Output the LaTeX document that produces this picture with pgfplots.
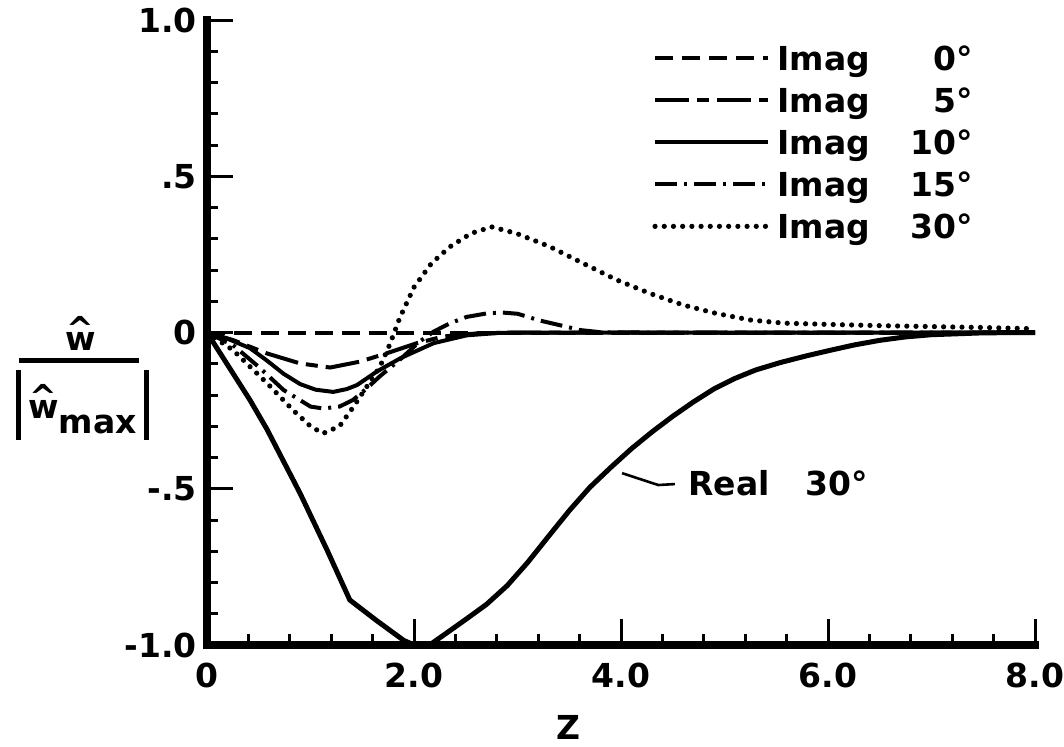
\documentclass[border=0pt]{standalone}
\usepackage{fontspec}
\setmainfont{DejaVu Sans}
\usepackage{pgfplots}
\usepackage{pgfplotstable}
\pgfplotsset{compat=1.18}

\newcommand\lbl{\fontsize{16.5}{19}\selectfont\bfseries}
% w with a caret above it
\newcommand\hatw{\makebox[0pt][l]{\makebox[15.25pt]{\raisebox{5pt}{\textasciicircum}}}w}

% real part, 30 deg
\pgfplotstableread{
z w
0 0
0.415 -0.216
0.58 -0.31
0.90 -0.515
1.16 -0.696
1.38 -0.856
1.64 -0.922
1.90 -0.985
2.00 -1.0
2.15 -1.0
2.30 -0.965
2.50 -0.918
2.70 -0.870
2.90 -0.810
3.10 -0.735
3.30 -0.652
3.50 -0.570
3.70 -0.495
3.90 -0.432
4.10 -0.372
4.30 -0.318
4.50 -0.268
4.70 -0.222
4.90 -0.180
5.10 -0.147
5.30 -0.120
5.54 -0.096
5.80 -0.074
6.02 -0.057
6.25 -0.040
6.50 -0.025
6.75 -0.014
7.00 -0.007
7.50 -0.001
8.00 0
}\realthirty

\pgfplotstableread{
z w
0 0
8 0
}\imagzero

\pgfplotstableread{
z w
0 0
0.25 -0.024
0.58 -0.067
0.90 -0.099
1.19 -0.112
1.48 -0.093
1.74 -0.066
2.03 -0.034
2.28 -0.013
2.60 -0.003
3.00 0
8.00 0
}\imagfive

\pgfplotstableread{
z w
0 0
0.20 -0.02
0.415 -0.05
0.58 -0.09
0.74 -0.132
0.90 -0.165
1.05 -0.183
1.22 -0.19
1.35 -0.181
1.45 -0.168
1.64 -0.125
1.87 -0.082
2.19 -0.034
2.51 -0.009
2.83 -0.001
3.20 0
8.00 0
}\imagten

\pgfplotstableread{
z w
0 0
0.25 -0.04
0.50 -0.11
0.74 -0.184
1.00 -0.237
1.12 -0.243
1.28 -0.237
1.41 -0.216
1.54 -0.18
1.67 -0.14
1.87 -0.085
2.05 -0.03
2.19 0.003
2.35 0.03
2.51 0.05
2.70 0.061
2.85 0.064
3.00 0.06
3.22 0.038
3.48 0.018
3.60 0.008
3.80 0.001
4.20 0
8.00 0
}\imagfifteen

\pgfplotstableread{
z w
0 0
0.25 -0.056
0.58 -0.162
0.83 -0.248
1.00 -0.30
1.12 -0.323
1.28 -0.30
1.41 -0.24
1.54 -0.175
1.67 -0.11
1.77 -0.035
1.86 0.045
2.00 0.145
2.17 0.222
2.35 0.275
2.55 0.317
2.75 0.338
2.99 0.317
3.31 0.275
3.63 0.222
3.96 0.168
4.28 0.125
4.60 0.088
4.92 0.061
5.25 0.040
5.57 0.030
6.00 0.026
6.50 0.022
7.00 0.019
7.50 0.016
8.00 0.012
}\imagthirty

\begin{document}
\begin{tikzpicture}
\begin{axis}[
  scale only axis, width=414pt, height=312.5pt,
  xmin=0, xmax=8, ymin=-1, ymax=1,
  axis lines=left,
  axis line style={-, line width=4pt, line cap=rect},
  xtick={0,2,4,6,8}, xticklabels={0,2.0,4.0,6.0,8.0},
  ytick={-1,-0.5,0,0.5,1}, yticklabels={-1.0,-.5,0,.5,1.0},
  minor x tick num=4, minor y tick num=4,
  tick align=inside,
  major tick length=13pt, minor tick length=5.5pt,
  every tick/.style={black, line width=1.5pt},
  ticklabel style={font=\lbl, inner sep=0pt},
  xticklabel style={anchor=north, yshift=-9pt},
  yticklabel style={anchor=east, xshift=-5pt},
  clip=false,
  legend cell align=left,
  legend style={draw=none, fill=none, at={(axis cs:4.30,0.917)}, anchor=north west,
    font=\lbl, inner sep=0pt, row sep=5pt,
    nodes={inner sep=0pt, text height=12pt, text depth=4pt}},
  legend image code/.code={\draw[#1] (0pt,2pt) -- (56.5pt,2pt); \path (60pt,0pt);},
]
\addplot[black, line width=2pt, dash pattern=on 9pt off 4.5pt] table[x=z,y=w] {\imagzero};
\addlegendentry{Imag\makebox[43pt][r]{0}°}
\addplot[black, line width=2pt, dash pattern=on 17pt off 4pt on 6pt off 4pt] table[x=z,y=w] {\imagfive};
\addlegendentry{Imag\makebox[43pt][r]{5}°}
\addplot[black, line width=2pt] table[x=z,y=w] {\imagten};
\addlegendentry{Imag\makebox[43pt][r]{10}°}
\addplot[black, line width=2pt, dash pattern=on 11pt off 3.5pt on 1.5pt off 3.5pt] table[x=z,y=w] {\imagfifteen};
\addlegendentry{Imag\makebox[43pt][r]{15}°}
\addplot[black, line width=2.6pt, line cap=round, dash pattern=on 0pt off 4.6pt] table[x=z,y=w] {\imagthirty};
\addlegendentry{Imag\makebox[43pt][r]{30}°}
\addplot[black, line width=2.5pt, forget plot] table[x=z,y=w] {\realthirty};

% label of the real-part curve
\draw[line width=1.3pt] (axis cs:4.01,-0.45) -- (axis cs:4.36,-0.488) -- (axis cs:4.52,-0.485);
\node[anchor=base west, font=\lbl, inner sep=0pt] at (axis cs:4.647,-0.52) {Real\hspace{18pt}30°};

% axis titles
\node[font=\lbl, inner sep=0pt] at (axis cs:3.49,-1.2624) {Z};
\node[font=\lbl, inner sep=0pt, anchor=base] at (axis cs:-1.203,-0.2736) {%
  \makebox[0pt][l]{\hspace{1.25pt}\raisebox{27.75pt}{\rule{60pt}{2.5pt}}}%
  \makebox[0pt][l]{\hspace{24.6pt}\raisebox{34pt}{\hatw}}%
  \rule[-11pt]{2.5pt}{35pt}\hspace{3.5pt}\hatw\raisebox{-7.5pt}{max}\hspace{3.5pt}\rule[-11pt]{2.5pt}{35pt}};

\coordinate (bbSW) at (axis cs:-2.0,-1.3232);
\coordinate (bbNE) at (axis cs:8.28,1.064);
\end{axis}
\pgfresetboundingbox
\path[use as bounding box] (bbSW) rectangle (bbNE);
\end{tikzpicture}
\end{document}
